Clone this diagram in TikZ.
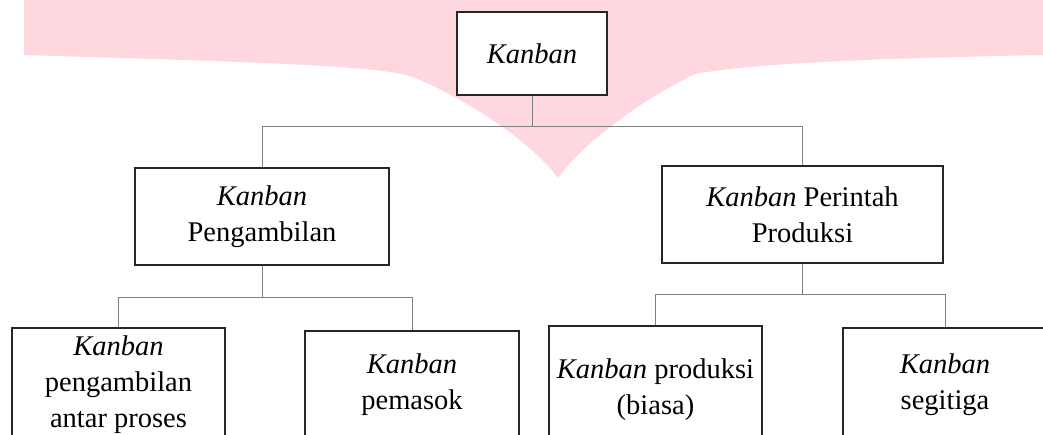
\documentclass[tikz,border=0pt]{standalone}
\usepackage{fontspec}
\setmainfont{Liberation Serif}
\usepackage{tikz}
\usetikzlibrary{arrows,shapes}
\definecolor{wmpink}{RGB}{254,216,222}
\tikzstyle{box}=[rectangle,draw=black!85,line width=1.3pt,fill=white,align=center,inner sep=0pt,
  font=\fontsize{28.5}{36}\selectfont]
\tikzstyle{edge} = [draw,line width=0.8pt,color=black!50,-]

\begin{document}
\begin{tikzpicture}[x=1pt,y=-1pt]
      \clip (0,0) rectangle (1043,435);
      \fill[white] (0,0) rectangle (1043,435);
      % watermark
      \fill[wmpink] (24,0) -- (24,55) .. controls (250,62) and (370,65) .. (410,76)
        .. controls (460,95) and (530,140) .. (558,178)
        .. controls (585,140) and (650,95) .. (695,74)
        .. controls (760,62) and (900,58) .. (1043,55) -- (1043,0) -- cycle;
      \node[box,minimum width=150pt,minimum height=83pt] (kanban) at (532,53.5) {\textit{Kanban}};
      \node[box,minimum width=254pt,minimum height=97pt] (ambil) at (262,216.5) {\textit{Kanban}\\Pengambilan};
      \node[box,minimum width=281pt,minimum height=97pt] (perintah) at (802.5,214.5) {\textit{Kanban} Perintah\\Produksi};
      \node[box,minimum width=213pt,minimum height=114pt] (antar) at (118.5,385) {\textit{Kanban}\\pengambilan\\antar proses};
      \node[box,minimum width=214pt,minimum height=108pt] (pemasok) at (412,385) {\textit{Kanban}\\pemasok};
      \node[box,minimum width=213pt,minimum height=128pt] (biasa) at (655.5,390) {\textit{Kanban} produksi\\(biasa)};
      \node[box,minimum width=204pt,minimum height=114pt] (segitiga) at (945,385) {\textit{Kanban}\\segitiga};
      \draw[edge] (kanban.south) -- +(0,31) -| (ambil.north);
      \draw[edge] (kanban.south) -- +(0,31) -| (perintah.north);
      \draw[edge] (ambil.south) -- +(0,32) -| (antar.north);
      \draw[edge] (ambil.south) -- +(0,32) -| (pemasok.north);
      \draw[edge] (perintah.south) -- +(0,31) -| (biasa.north);
      \draw[edge] (perintah.south) -- +(0,31) -| (segitiga.north);
\end{tikzpicture}
\end{document}
